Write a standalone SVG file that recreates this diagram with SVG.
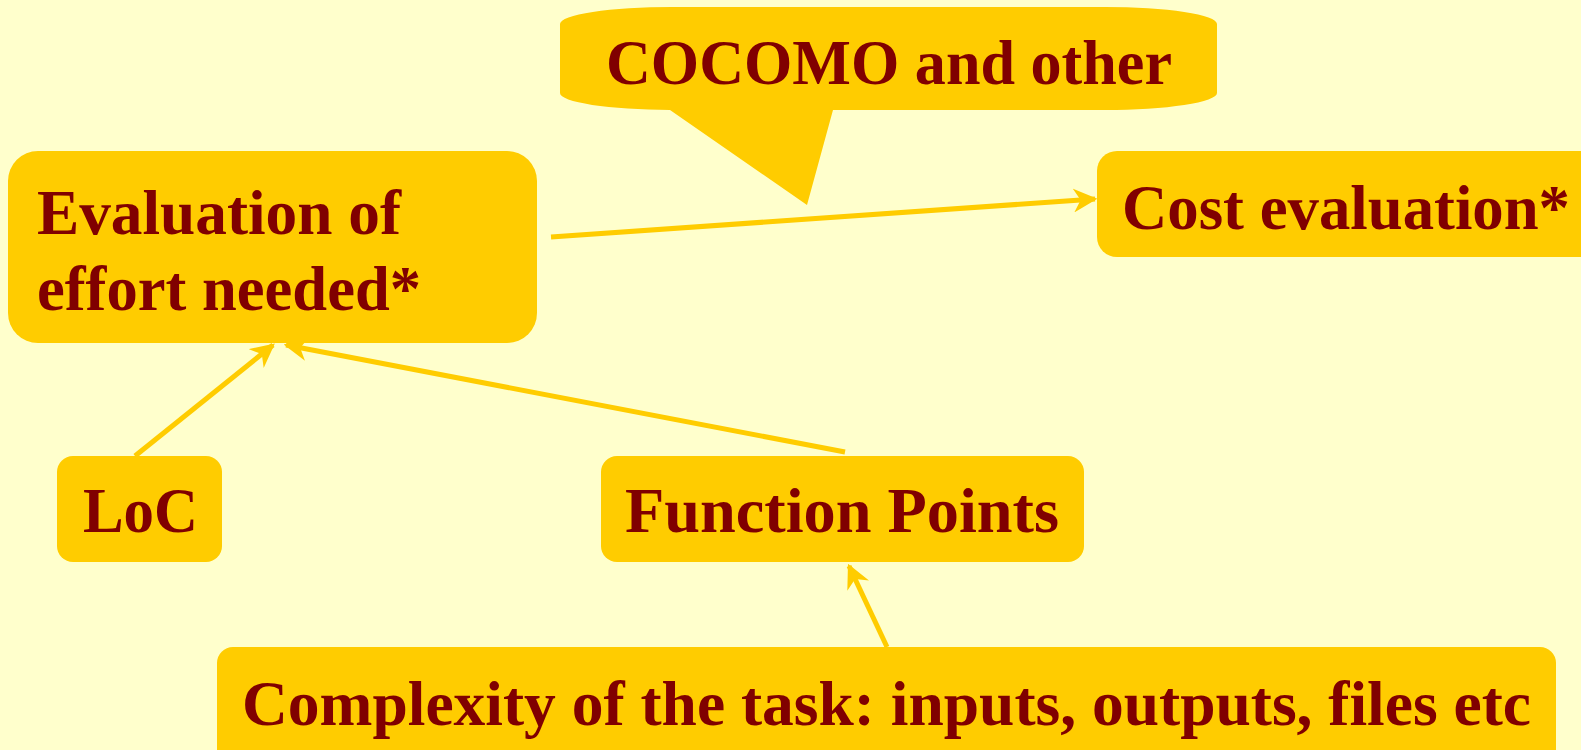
<svg xmlns="http://www.w3.org/2000/svg" width="1581" height="750" viewBox="0 0 1581 750">
<style>
.box{fill:#FFCC00;}
.t{font-family:"Liberation Serif","Times New Roman",serif;font-weight:bold;font-size:64px;fill:#800000;}
.c{stroke:#FFCC00;stroke-width:5;fill:none;}
</style>
<defs>
<marker id="ah" viewBox="0 0 10 10" refX="9" refY="5" markerWidth="24" markerHeight="24" markerUnits="userSpaceOnUse" orient="auto">
<path d="M0,0 L10,5 L0,10 L3,5 Z" fill="#FFCC00"/>
</marker>
</defs>
<rect x="0" y="0" width="1581" height="750" fill="#FFFFCC"/>
<g id="connectors">
<line class="c" x1="551" y1="237" x2="1095" y2="199" marker-end="url(#ah)"/>
<line class="c" x1="135" y1="456" x2="273" y2="345" marker-end="url(#ah)"/>
<line class="c" x1="845" y1="452" x2="286" y2="345" marker-end="url(#ah)"/>
<line class="c" x1="887" y1="647" x2="849" y2="566" marker-end="url(#ah)"/>
</g>
<g id="callout">
<path class="box" d="M560,24 A112,17 0 0 1 672,7 L1105,7 A112,17 0 0 1 1217,24 L1217,93 A112,17 0 0 1 1105,110 L833,110 L807,205 L670,110 A112,17 0 0 1 560,93 Z"/>
<text class="t" x="606" y="84" textLength="566" lengthAdjust="spacingAndGlyphs">COCOMO and other</text>
</g>
<g id="effort">
<rect class="box" x="8" y="151" width="529" height="192" rx="30" ry="30"/>
<text class="t" x="37" y="234" textLength="364" lengthAdjust="spacingAndGlyphs">Evaluation of</text>
<text class="t" x="37" y="310" textLength="384" lengthAdjust="spacingAndGlyphs">effort needed*</text>
</g>
<g id="cost">
<rect class="box" x="1097" y="151" width="520" height="106" rx="20" ry="20"/>
<text class="t" x="1122" y="229" textLength="448" lengthAdjust="spacingAndGlyphs">Cost evaluation*</text>
</g>
<g id="loc">
<rect class="box" x="57" y="456" width="165" height="106" rx="16" ry="16"/>
<text class="t" x="83" y="532" textLength="115" lengthAdjust="spacingAndGlyphs">LoC</text>
</g>
<g id="fp">
<rect class="box" x="601" y="456" width="483" height="106" rx="16" ry="16"/>
<text class="t" x="625" y="532" textLength="434" lengthAdjust="spacingAndGlyphs">Function Points</text>
</g>
<g id="complexity">
<rect class="box" x="217" y="647" width="1339" height="130" rx="16" ry="16"/>
<text class="t" x="242" y="725" textLength="1289" lengthAdjust="spacingAndGlyphs">Complexity of the task: inputs, outputs, files etc</text>
</g>
</svg>
